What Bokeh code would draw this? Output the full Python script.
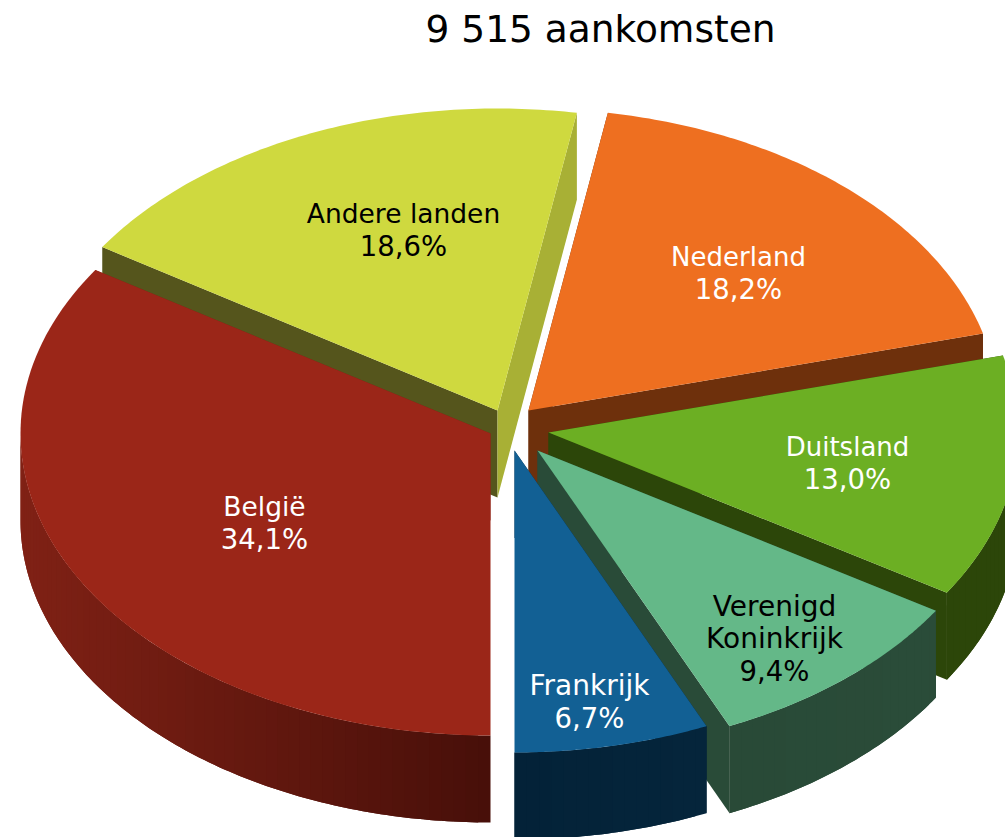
import numpy as np
from bokeh.plotting import figure
from bokeh.models import Range1d, ColumnDataSource
from bokeh.core.properties import value
from bokeh.embed import file_html
from bokeh.resources import INLINE

# ---- data
title = "9 515 aankomsten"
categories = ["België", "Andere landen", "Nederland", "Duitsland", "Verenigd Koninkrijk", "Frankrijk"]
shares = [34.1, 18.6, 18.2, 13.0, 9.4, 6.7]
share_labels = ["34,1%", "18,6%", "18,2%", "13,0%", "9,4%", "6,7%"]

# ---- styling, in page pixels
W, H = 1005, 837
OX, OY = 0, 0
RX, RY, DEPTH = 470, 302, 87
START_ANGLE = 180.0
apex = {"België": (490, 433), "Andere landen": (497, 410), "Nederland": (528, 410),
        "Duitsland": (548, 432), "Verenigd Koninkrijk": (537, 450), "Frankrijk": (514, 450)}
top_col = {"België": "#9B2618", "Andere landen": "#CFD93F", "Nederland": "#EE6F20",
           "Duitsland": "#6CAF23", "Verenigd Koninkrijk": "#64B888", "Frankrijk": "#126094"}
start_face = {"België": "#7E2014", "Andere landen": "#55551C", "Nederland": "#6E300C",
              "Duitsland": "#2C4609", "Verenigd Koninkrijk": "#294B38", "Frankrijk": "#04243A"}
end_face = {"België": "#7E2014", "Andere landen": "#A8B035", "Nederland": "#6E300C",
            "Duitsland": "#2C4609", "Verenigd Koninkrijk": "#294B38", "Frankrijk": "#04243A"}
# rim colour at the left and right end of the slice's visible rim
rim_col = {"België": ((0x80, 0x21, 0x15), (0x47, 0x0F, 0x09)),
           "Andere landen": ((0x55, 0x55, 0x1C), (0x55, 0x55, 0x1C)),
           "Nederland": ((0x6E, 0x30, 0x0C), (0x6E, 0x30, 0x0C)),
           "Duitsland": ((0x2C, 0x46, 0x09), (0x2C, 0x46, 0x09)),
           "Verenigd Koninkrijk": ((0x29, 0x4A, 0x37), (0x2A, 0x4C, 0x39)),
           "Frankrijk": ((0x03, 0x22, 0x38), (0x05, 0x25, 0x3B))}
label_pos = {"België": (264, 522), "Andere landen": (403, 229), "Nederland": (738, 272),
             "Duitsland": (847, 462), "Verenigd Koninkrijk": (774, 638), "Frankrijk": (589, 701)}
label_col = {"België": "#FFFFFF", "Andere landen": "#000000", "Nederland": "#FFFFFF",
             "Duitsland": "#FFFFFF", "Verenigd Koninkrijk": "#000000", "Frankrijk": "#FFFFFF"}
name_size = {"België": "26.5px", "Andere landen": "26.5px", "Nederland": "26px",
             "Duitsland": "26px", "Verenigd Koninkrijk": "28px", "Frankrijk": "28px"}
PCT_SIZE = "27.5px"
draw_order = ["Andere landen", "Nederland", "Duitsland", "Verenigd Koninkrijk", "Frankrijk", "België"]

p = figure(width=W, height=H, output_backend="svg", toolbar_location=None,
           x_range=Range1d(OX, OX + W), y_range=Range1d(OY + H, OY),
           min_border=0, outline_line_color=None, background_fill_color="white")
p.axis.visible = False
p.grid.visible = False


def pt(cat, deg):
    ax, ay = apex[cat]
    r = np.radians(deg)
    return ax + RX * np.sin(r), ay - RY * np.cos(r)


spans = {}
a = START_ANGLE
for c, s in zip(categories, shares):
    start = a % 360
    spans[c] = (start, start + s * 3.6)
    a += s * 3.6

xs, ys, cols = [], [], []


def add(x, y, col):
    xs.append(list(map(float, x)))
    ys.append(list(map(float, y)))
    cols.append(col)


for c in draw_order:
    a0, a1 = spans[c]
    ax, ay = apex[c]
    # radial cut faces
    for ang, col in ((a0, start_face[c]), (a1, end_face[c])):
        x1, y1 = pt(c, ang)
        add([ax, x1, x1, ax], [ay, y1, y1 + DEPTH, ay + DEPTH], col)
    # outer rim, strip by strip, only where it faces the viewer
    lo, hi = max(a0, 90.0), min(a1, 270.0)
    if lo < hi:
        n = max(2, int((hi - lo) / 1.5))
        edges = np.linspace(lo, hi, n + 1)
        cl, cr = rim_col[c]
        xl = pt(c, hi)[0]
        xr = pt(c, lo)[0]
        for i in range(n):
            # every strip runs on under the next one, so no seams show
            arc = np.linspace(edges[i], edges[min(i + 2, n)], 5)
            xa, ya = zip(*[pt(c, t) for t in arc])
            f = ((pt(c, edges[i])[0] + pt(c, edges[i + 1])[0]) / 2 - xl) / (xr - xl)
            rgb = [int(round(cl[k] + (cr[k] - cl[k]) * f)) for k in range(3)]
            add(list(xa) + list(xa[::-1]), list(ya) + [y + DEPTH for y in ya[::-1]],
                "#%02X%02X%02X" % tuple(rgb))
    # top surface
    arc = np.linspace(a0, a1, 90)
    tx = [ax] + [pt(c, t)[0] for t in arc]
    ty = [ay] + [pt(c, t)[1] for t in arc]
    add(tx, ty, top_col[c])

src = ColumnDataSource(dict(xs=xs, ys=ys, col=cols))
p.patches("xs", "ys", source=src, fill_color="col", line_color=None)

LINE = 32
tx, ty, tt, tc, fs = [], [], [], [], []
for c, lab in zip(categories, share_labels):
    lines = c.split(" ") if c == "Verenigd Koninkrijk" else [c]
    sizes = [name_size[c]] * len(lines) + [PCT_SIZE]
    lines = lines + [lab]
    x0, y0 = label_pos[c]
    for i, ln in enumerate(lines):
        tx.append(x0)
        ty.append(y0 + (i - (len(lines) - 1) / 2) * LINE)
        tt.append(ln)
        tc.append(label_col[c])
        fs.append(sizes[i])
lab_src = ColumnDataSource(dict(x=tx, y=ty, text=tt, color=tc, fs=fs))
p.text("x", "y", text="text", text_color="color", text_font=value("DejaVu Sans"), text_font_size="fs",
       text_align="center", text_baseline="middle", source=lab_src)
p.text([600], [28], text=[title], text_color="#000000", text_font=value("DejaVu Sans"),
       text_font_size="37.5px", text_align="center", text_baseline="middle")

open("out.html", "w").write(file_html(p, INLINE))
